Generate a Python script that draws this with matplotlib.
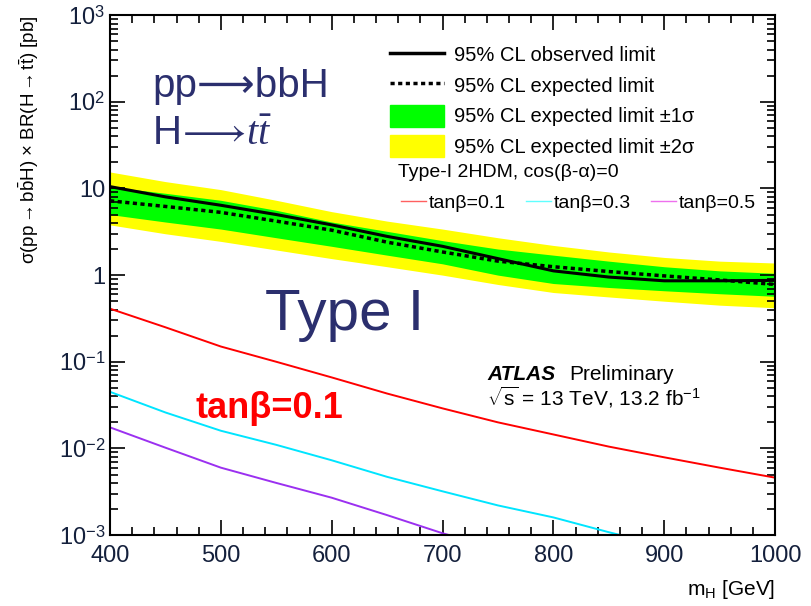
import numpy as np
import matplotlib
matplotlib.use("Agg")
import matplotlib.pyplot as plt
from matplotlib.lines import Line2D
from matplotlib.patches import Patch
from matplotlib.ticker import FixedLocator, FixedFormatter, LogLocator, MultipleLocator, NullFormatter

plt.rcParams['font.family'] = ['Liberation Sans', 'DejaVu Sans']
plt.rcParams['mathtext.fontset'] = 'custom'
plt.rcParams['mathtext.rm'] = 'Liberation Sans'
plt.rcParams['mathtext.it'] = 'Liberation Serif:italic'
plt.rcParams['mathtext.bf'] = 'Liberation Sans:bold'

# data
mass = [400, 450, 500, 550, 600, 650, 700, 750, 800, 850, 900, 950, 1000]
observed = [10.5, 8.0, 6.4, 5.0, 3.8, 2.8, 2.15, 1.55, 1.12, 0.95, 0.86, 0.86, 0.87]
expected = [7.2, 6.2, 5.3, 4.2, 3.3, 2.4, 1.85, 1.45, 1.25, 1.1, 0.98, 0.88, 0.78]
sig1_hi = [10.5, 8.8, 7.3, 5.6, 4.1, 3.2, 2.5, 2.0, 1.7, 1.45, 1.25, 1.12, 1.05]
sig1_lo = [5.0, 4.1, 3.4, 2.7, 2.15, 1.7, 1.35, 1.0, 0.8, 0.72, 0.66, 0.61, 0.57]
sig2_hi = [15.5, 12.0, 9.7, 7.3, 5.4, 4.2, 3.4, 2.7, 2.2, 1.85, 1.6, 1.45, 1.38]
sig2_lo = [3.8, 3.0, 2.45, 1.95, 1.55, 1.25, 1.0, 0.78, 0.63, 0.56, 0.5, 0.45, 0.42]

tb01 = [0.41, 0.25, 0.15, 0.10, 0.066, 0.043, 0.029, 0.020, 0.0145, 0.0105, 0.0079, 0.006, 0.0046]
mass_tb03 = [400, 450, 500, 550, 600, 650, 700, 750, 800, 850, 900]
tb03 = [0.045, 0.026, 0.016, 0.011, 0.0073, 0.0047, 0.0032, 0.0022, 0.0016, 0.00108, 0.00075]
mass_tb05 = [400, 450, 500, 550, 600, 650, 700, 750]
tb05 = [0.0175, 0.0102, 0.006, 0.0040, 0.0027, 0.0017, 0.00105, 0.0007]

ytick_vals = [1e-3, 1e-2, 1e-1, 1, 10, 1e2, 1e3]
ytick_labels = ['$10^{-3}$', '$10^{-2}$', '$10^{-1}$', '1', '10', '$10^{2}$', '$10^{3}$']

fig = plt.figure(figsize=(8.12, 6.06), dpi=100)
ax = fig.add_axes([0.1355, 0.117, 0.819, 0.858])

ax.fill_between(mass, sig2_lo, sig2_hi, color='#ffff00', lw=0)
ax.fill_between(mass, sig1_lo, sig1_hi, color='#00ff00', lw=0)
ax.plot(mass, expected, color='black', lw=2.5, ls=(0, (1.2, 1.0)))
ax.plot(mass, observed, color='black', lw=2.2)

ax.plot(mass, tb01, color='#ff0000', lw=1.4)
ax.plot(mass_tb03, tb03, color='#00e5ff', lw=1.4)
ax.plot(mass_tb05, tb05, color='#9b30f0', lw=1.4)

ax.set_yscale('log')
ax.set_xlim(400, 1000)
ax.set_ylim(1e-3, 1e3)
ax.yaxis.set_major_locator(FixedLocator(ytick_vals))
ax.yaxis.set_major_formatter(FixedFormatter(ytick_labels))
ax.yaxis.set_minor_locator(LogLocator(base=10, subs=np.arange(2, 10), numticks=20))
ax.yaxis.set_minor_formatter(NullFormatter())
ax.xaxis.set_major_locator(MultipleLocator(100))
ax.xaxis.set_minor_locator(MultipleLocator(20))

ax.tick_params(which='both', direction='in', top=True, right=True, labelsize=17, width=1.2,
               labelcolor='#14203c')
ax.tick_params(which='major', length=11)
ax.tick_params(which='minor', length=6)
ax.tick_params(axis='x', pad=7)
for s in ax.spines.values():
    s.set_linewidth(1.5)

ax.set_xlabel('m$_{\\rm H}$ [GeV]', fontsize=15, loc='right', labelpad=8)
ax.set_ylabel('\u03c3(pp$\\rightarrow$b$\\bar{\\rm b}$H) $\\times$ BR(H$\\rightarrow$t$\\bar{\\rm t}$) [pb]',
              fontsize=13.5, loc='top', labelpad=13)

navy = '#2b2f6e'
ax.text(0.063, 0.842, 'pp\u27f6bbH', transform=ax.transAxes, fontsize=29, color=navy)
ax.text(0.063, 0.75, 'H$\\!\\longrightarrow\\!t\\bar{t}$', transform=ax.transAxes, fontsize=29, color=navy)
ax.text(0.233, 0.394, 'Type I', transform=ax.transAxes, fontsize=42, color=navy)
ax.text(0.128, 0.225, 'tan\u03b2=0.1', transform=ax.transAxes, fontsize=26, color='#ff0000',
        fontweight='bold')
ax.text(0.567, 0.298, 'ATLAS', transform=ax.transAxes, fontsize=15, fontweight='bold',
        fontstyle='italic')
ax.text(0.69, 0.298, 'Preliminary', transform=ax.transAxes, fontsize=15)
ax.text(0.567, 0.25, '$\\sqrt{\\rm s}$ = 13 TeV, 13.2 fb$^{-1}$', transform=ax.transAxes, fontsize=15)

handles = [Line2D([], [], color='black', lw=2.5),
           Line2D([], [], color='black', lw=2.5, ls=(0, (1.2, 1.0))),
           Patch(color='#00ff00'),
           Patch(color='#ffff00')]
labels = ['95% CL observed limit', '95% CL expected limit',
          '95% CL expected limit \u00b11\u03c3', '95% CL expected limit \u00b12\u03c3']
leg1 = ax.legend(handles, labels, loc='upper left', bbox_to_anchor=(0.421, 0.945), frameon=False,
                 fontsize=14.5, handlelength=2.7, handleheight=1.3, labelspacing=0.42,
                 handletextpad=0.5, borderaxespad=0, borderpad=0)
ax.add_artist(leg1)

ax.text(0.433, 0.698, 'Type-I 2HDM, cos(\u03b2-\u03b1)=0', transform=ax.transAxes, fontsize=14,
        va='center')
h2 = [Line2D([], [], color='#ff6060', lw=1),
      Line2D([], [], color='#60ffff', lw=1),
      Line2D([], [], color='#ee70ee', lw=1)]
l2 = ['tan\u03b2=0.1', 'tan\u03b2=0.3', 'tan\u03b2=0.5']
leg2 = ax.legend(h2, l2, loc='upper left', bbox_to_anchor=(0.4375, 0.656), frameon=False, ncol=3,
                 fontsize=14, handlelength=1.3, handletextpad=0.15, columnspacing=1.0,
                 borderaxespad=0, borderpad=0)

fig.savefig('out.png', dpi=100)
